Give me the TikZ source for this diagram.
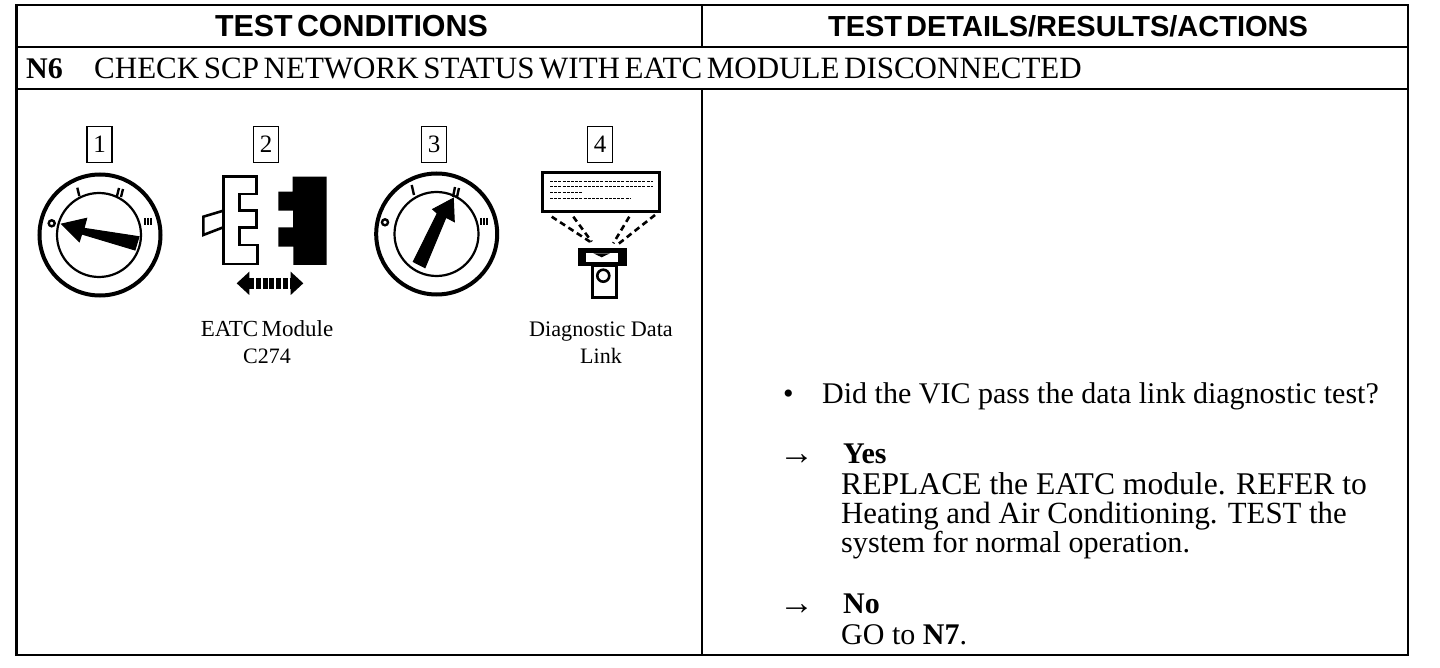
\documentclass[tikz,border=0pt]{standalone}
\usepackage{fontspec}
\setmainfont{Liberation Serif}
\setsansfont[WordSpace=0.5]{Liberation Sans}
\newfontfamily\tightserif[WordSpace=0.6]{Liberation Serif}
\newcommand{\pxfont}[1]{\fontsize{#1}{#1}\selectfont}
\begin{document}
\begin{tikzpicture}[
    x=1pt, y=-1pt,
    rule/.style={line width=2.4pt},
    heading/.style={font=\pxfont{29}\sffamily\bfseries, anchor=base},
    title/.style={font=\pxfont{31}\tightserif, anchor=base west, inner sep=0pt},
    body/.style={font=\pxfont{30}, anchor=base west, inner sep=0pt},
    caption/.style={font=\pxfont{22}, anchor=base, inner sep=0pt},
    stepnum/.style={draw, line width=1.5pt, minimum width=25pt, minimum height=36pt, inner sep=0pt, font=\pxfont{25}},
    rim/.style={draw, circle, line width=4pt, minimum size=121pt, inner sep=0pt},
    barrel/.style={draw, circle, line width=2.2pt, minimum size=84pt, inner sep=0pt},
    tick/.style={line width=2.4pt},
    pointer/.style={fill=black, draw=black, line width=1pt},
    outline/.style={draw, line width=2.6pt, fill=white, line join=miter},
    beam/.style={line width=2.6pt, dash pattern=on 6pt off 4pt},
    fineprint/.style={line width=1.2pt, dash pattern=on 3pt off 1.2pt}
]
    \useasboundingbox (0,0) rectangle (1440,668);

    % --- Table rules ---
    \draw[rule] (16.5,5) rectangle (1408,655);
    \draw[rule] (16.5,47) -- (1408,47);
    \draw[rule] (16.5,89) -- (1408,89);
    \draw[line width=1.6pt] (702,5) -- (702,47);
    \draw[line width=1.6pt] (702,89) -- (702,655);

    % --- Header rows ---
    \node[heading, font=\pxfont{30.4}\sffamily\bfseries] (headleft) at (351.5,37) {TEST CONDITIONS};
    \node[heading] (headright) at (1068,37) {TEST DETAILS/RESULTS/ACTIONS};
    \node[title, font=\pxfont{30}\bfseries] (stepid) at (26,79) {N6};
    \node[title] (steptitle) at (94,79) {CHECK SCP NETWORK STATUS WITH EATC MODULE DISCONNECTED};

    % --- Step numbers ---
    \node[stepnum] (num1) at (99.5,144.7) {1};
    \node[stepnum] (num2) at (266,144.7) {2};
    \node[stepnum] (num3) at (434,144.7) {3};
    \node[stepnum] (num4) at (600,144.7) {4};

    % --- Key switch, off ---
    \node[rim] (rim1) at (100,235) {};
    \node[barrel] (barrel1) at (99,235) {};
    \draw[pointer] (61.7,224) -- (86.7,218.3) -- (84,228.3) -- (139,236.7) -- (135,250) -- (81.7,234) -- (79.3,241.7) -- cycle;
    \draw[tick] (77.3,187.7) -- (79.3,196);
    \draw[tick] (119,188) -- (117,196);
    \draw[tick] (123,189) -- (121,197);
    \draw[tick] (145,218) -- (145,225);
    \draw[tick] (148,218) -- (148,225);
    \draw[tick] (151,218) -- (151,225);
    \draw[line width=2.4pt] (51.7,223.3) circle (3);

    % --- Module connector, apart ---
    \draw[outline] (223.3,210.7) -- (203.3,216.7) -- (203.3,235) -- (223.3,227.3);
    \draw[outline] (223.3,176.7) -- (256.7,176.7) -- (256.7,194) -- (239.3,194) -- (239.3,210.7) -- (256.7,210.7) -- (256.7,227.3) -- (239.3,227.3) -- (239.3,245) -- (257.3,245) -- (257.3,264) -- (223.3,264) -- cycle;
    \fill (292.7,176.7) -- (326.7,176.7) -- (326.7,265) -- (293.3,265) -- (293.3,246.7) -- (278.3,246.7) -- (278.3,227.3) -- (293,227.3) -- (293,210.7) -- (278.3,210.7) -- (278.3,191.7) -- (292.7,191.7) -- cycle;
    % double arrow underneath
    \fill (236.7,283.3) -- (249.3,271.7) -- (249.3,295) -- cycle;
    \fill (303.3,283.3) -- (290.7,271.7) -- (290.7,295) -- cycle;
    \draw[line width=11pt, dash pattern=on 5pt off 1.7pt] (249.3,283.8) -- (290.7,283.8);
    \node[caption, font=\pxfont{23}\tightserif] (modlabel) at (267,336) {EATC Module};
    \node[caption] (modcode) at (267,363) {C274};

    % --- Key switch, run ---
    \node[rim] (rim3) at (436.7,234) {};
    \node[barrel] (barrel3) at (436.5,234) {};
    \draw[pointer] (453.3,198.3) -- (454.3,221.7) -- (446,217.3) -- (425,267.7) -- (413.3,261.7) -- (437.3,213.3) -- (432.7,209.3) -- cycle;
    \draw[tick] (411.7,185) -- (414,195);
    \draw[tick] (455,187) -- (453,197);
    \draw[tick] (459,188) -- (457,197);
    \draw[tick] (481,218) -- (481,225);
    \draw[tick] (484,218) -- (484,225);
    \draw[tick] (487,218) -- (487,225);
    \draw[line width=2.4pt] (385,222.3) circle (3);

    % --- Scan tool and link connector ---
    \draw[line width=3pt] (542.7,172.7) rectangle (659,211.7);
    \draw[fineprint] (550,181.7) -- (653.3,181.7);
    \draw[fineprint] (550,186.7) -- (653.3,186.7);
    \draw[fineprint] (550,192.3) -- (581.7,192.3);
    \draw[fineprint] (550,198.7) -- (630,198.7);
    \draw[beam] (551.7,216.7) -- (590,241.7);
    \draw[beam] (573.3,216.7) -- (591.7,241.7);
    \draw[beam] (629.3,216.7) -- (613.3,243.3);
    \draw[beam] (655,215) -- (618.3,244);
    \draw[outline] (592.3,265.7) rectangle (616.7,297.7);
    \draw[line width=2.6pt] (603.3,275.7) circle (6);
    \fill (578.3,248.3) rectangle (626.7,265.7);
    \fill[white] (586,253.3) rectangle (618.3,261.7);
    \fill (593.3,253.3) -- (610,253.3) -- (601.7,257.3) -- cycle;
    \node[caption, font=\pxfont{22.2}] (dlclabel) at (601,336) {Diagnostic Data};
    \node[caption] (dlclink) at (601,363) {Link};

    % --- Results column ---
    \node[body] (bullet) at (783,403) {\textbullet};
    \node[body] (question) at (822,403) {Did the VIC pass the data link diagnostic test?};
    \node[body, font=\pxfont{35}] (yesarrow) at (779,464) {→};
    \node[body, font=\pxfont{30}\bfseries] (yes) at (843,463) {Yes};
    \node[body, font=\pxfont{31.6}] (yes1) at (841,494) {REPLACE the EATC module. REFER to};
    \node[body, font=\pxfont{30.8}] (yes2) at (841,523) {Heating and Air Conditioning. TEST the};
    \node[body, font=\pxfont{30.2}] (yes3) at (841,552) {system for normal operation.};
    \node[body, font=\pxfont{35}] (noarrow) at (779,614) {→};
    \node[body, font=\pxfont{30}\bfseries] (no) at (843,613) {No};
    \node[body] (no1) at (841,644) {GO to \textbf{N7}.};
\end{tikzpicture}
\end{document}
